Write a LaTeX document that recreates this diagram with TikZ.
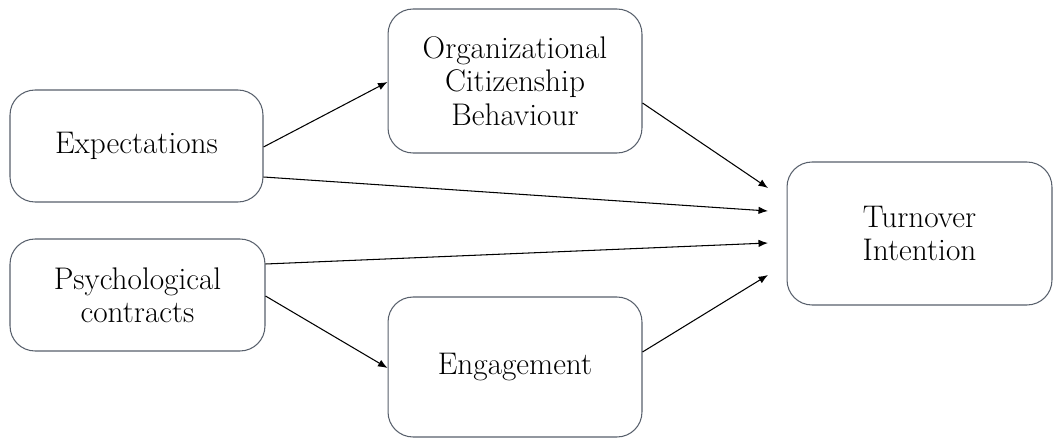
\documentclass[tikz,border=0pt]{standalone}
\usetikzlibrary{arrows.meta,calc}
\definecolor{boxline}{RGB}{88,96,108}
\begin{document}
\begin{tikzpicture}[x=0.02cm,y=-0.02cm,
  box/.style={draw=boxline,line width=0.6pt,rounded corners=0.5cm,align=center,
    font=\fontsize{17.8}{19}\selectfont,inner sep=0pt},
  link/.style={draw=black,line width=0.6pt,-{Latex[length=0.19cm,width=0.15cm]}}]
  \useasboundingbox (0,0) rectangle (1054,439);
  % factor boxes
  \node[box,minimum width=5.06cm,minimum height=2.24cm] (exp) at (136.5,146) {Expectations};
  \node[box,minimum width=5.1cm,minimum height=2.24cm] (psy) at (137.5,295) {Psychological\\contracts};
  \node[box,minimum width=5.08cm,minimum height=2.88cm] (ocb) at (515,81) {Organizational\\Citizenship\\Behaviour};
  \node[box,minimum width=5.08cm,minimum height=2.8cm] (eng) at (515,367) {Engagement};
  \node[box,minimum width=5.3cm,minimum height=2.86cm] (tur) at (919.5,233.5) {Turnover\\Intention};
  % arrow tips in front of the outcome box
  \coordinate (t1) at (768,188);
  \coordinate (t2) at (768,211);
  \coordinate (t3) at (768,243);
  \coordinate (t4) at (768,275);
  % paths
  \draw[link] ($(exp.east)+(0,1)$) -- ($(ocb.west)+(0,1)$);
  \draw[link] ($(exp.east)+(0,31)$) -- (t2);
  \draw[link] ($(psy.east)+(0,-31)$) -- (t3);
  \draw[link] ($(psy.east)+(0,1)$) -- ($(eng.west)+(0,1)$);
  \draw[link] ($(ocb.east)+(0,22)$) -- (t1);
  \draw[link] ($(eng.east)+(0,-15)$) -- (t4);
\end{tikzpicture}
\end{document}
